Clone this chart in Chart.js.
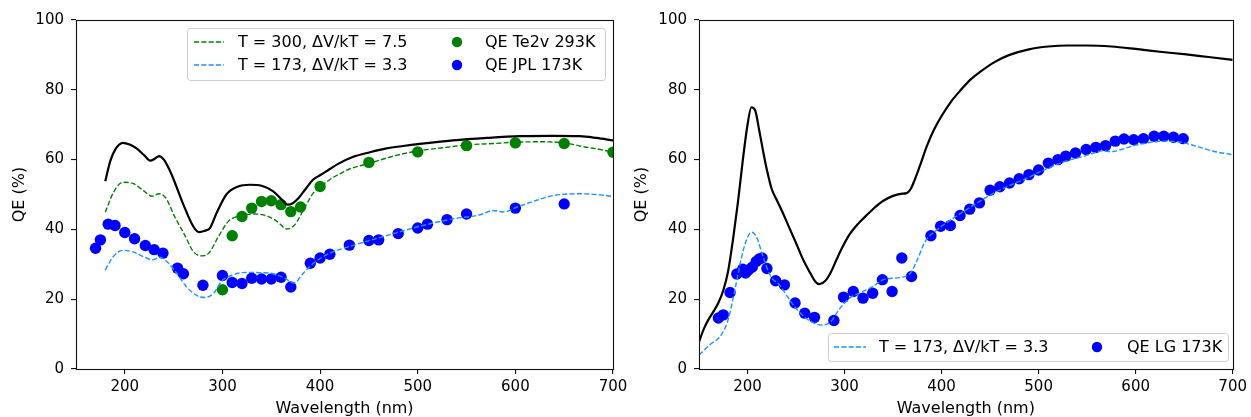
<!DOCTYPE html>
<html><head><meta charset="utf-8">
<script src="https://cdn.jsdelivr.net/npm/chart.js@4.4.1/dist/chart.umd.min.js"></script>
<style>
html,body{margin:0;padding:0;background:#fff;width:1251px;height:417px;overflow:hidden;}
canvas{position:absolute;top:0;}
#c1{left:0;}
#c2{left:625px;}
</style></head><body>
<canvas id="c1" width="645" height="417"></canvas>
<canvas id="c2" width="626" height="417"></canvas>
<script>
// ---------- Left panel data ----------
const leftBlackNm = [180,185,190,198,205,212,220,226,231,235,240,245,250,260,270,276,282,287,294,304,316,328,340,352,361,367,372,378,385,393,400,410,418,434,451,468,485,502,536,571,605,639,666,683,700];
const leftBlackQE = [53.8,59.5,62.8,64.8,64.3,63.2,61.2,59.7,60.3,61.0,60.0,57.5,54.3,47.1,40.9,39.2,39.6,40.3,44.7,50.0,52.3,52.8,52.5,50.9,48.5,47.1,47.5,49.0,51.5,54.3,55.5,57.3,58.7,60.8,62.1,63.2,63.9,64.5,65.5,66.2,66.7,66.8,66.7,66.2,65.5];

const leftT300Nm = [180,188,198,209,219,228,235,242,251,262,270,279,286,296,306,318,332,344,356,366,374,383,393,401,410,420,430,450,475,500,526,550,577,600,625,650,670,687,700];
const leftT300QE = [44.9,50.4,53.5,53.1,51.1,49.5,50.2,49.0,43.7,38.0,33.7,32.4,33.2,38.0,42.3,43.9,44.4,44.0,42.3,40.1,41.3,45.6,50.4,52.3,54.3,55.9,57.3,58.9,61.0,62.5,63.4,64.2,64.6,65.0,65.1,64.8,63.7,62.9,62.1];

const leftT173Nm = [180,188,198,209,219,228,236,244,253,263,274,282,291,299,311,325,338,352,364,373,383,393,401,410,430,468,502,536,564,577,588,600,618,639,666,687,700];
const leftT173QE = [28.4,32.2,34.0,33.5,32.2,31.3,32.0,30.5,27.5,23.6,21.0,20.5,21.7,25.1,27.0,27.7,27.6,27.3,26.0,24.6,27.5,30.3,31.8,33.2,35.1,38.2,40.9,43.0,44.2,45.4,45.0,46.2,48.0,49.7,50.2,49.9,49.4];

const te2vNm = [300,310,320,330,340,350,360,370,380,400,450,500,550,600,650,700];
const te2vQE = [22.7,38.2,43.7,46.1,48.0,48.2,47.1,45.1,46.4,52.3,59.2,62.2,64.0,64.8,64.6,62.1];

const jplNm = [170,175,183,190,200,210,221,230,239,254,260,280,300,310,320,330,340,350,360,370,390,400,410,430,450,460,480,500,510,530,550,600,650];
const jplQE = [34.6,37.0,41.5,41.1,39.1,37.3,35.4,34.2,33.2,28.9,27.3,24.0,26.8,24.8,24.5,26.0,25.8,25.8,26.3,23.5,30.3,31.8,32.9,35.5,36.8,37.0,38.8,40.4,41.5,42.8,44.4,46.1,47.3];

// ---------- Right panel data ----------
const rightBlackNm = [150,155,160,165,170,175,180,185,190,195,200,204,208,212,216,220,225,230,236,243,250,257,264,270,274,280,286,292,298,305,312,320,330,340,350,358,364,368,372,378,385,392,400,410,420,430,440,455,470,490,510,530,550,575,600,625,650,675,700];
const rightBlackQE = [7.8,11.5,14.3,16.5,19.0,22.5,28.0,37.0,47.5,59.5,70.0,75.0,74.0,68.5,62.5,57.0,51.5,48.5,45.0,40.5,36.1,31.5,27.8,25.0,24.3,25.2,27.8,31.5,35.0,38.5,41.0,43.3,46.0,48.2,49.6,50.2,50.4,51.5,54.0,58.5,64.0,68.5,72.5,76.7,80.0,83.0,85.2,88.0,90.0,91.6,92.4,92.7,92.7,92.4,91.7,90.9,90.2,89.4,88.6];

const rightT173Nm = [150,161,173,180,187,194,199,204,209,216,224,233,241,250,260,269,277,286,294,305,315,329,340,359,368,375,383,393,410,428,448,468,492,499,527,547,557,565,575,585,598,612,629,646,663,680,700];
const rightT173QE = [4.0,6.9,9.8,14.1,22.7,32.2,37.0,39.2,38.0,32.2,26.5,24.1,20.8,17.4,14.6,13.1,12.6,13.6,16.9,20.3,21.7,23.6,25.6,26.3,27.5,31.3,36.5,39.4,42.8,46.1,49.5,52.3,55.2,56.2,59.5,61.0,61.9,62.5,62.3,62.9,64.0,64.8,65.3,65.0,63.8,62.4,61.4];

const lgNm = [170,175,182,189,195,198,201,205,209,212,215,220,229,238,249,259,269,289,299,309,319,329,339,349,359,369,389,399,409,419,429,439,450,460,470,480,490,500,510,520,528,538,549,559,569,579,588,598,608,619,629,639,649];
const lgQE = [14.6,15.5,21.9,27.2,28.6,27.5,28.4,29.2,30.8,31.5,31.8,28.8,25.3,24.1,18.9,16.0,14.8,13.9,20.6,22.2,20.3,21.7,25.6,22.2,31.8,26.5,38.2,40.9,41.1,44.0,45.8,47.6,51.2,52.2,53.3,54.5,55.7,57.0,59.0,60.0,61.0,61.9,62.9,63.5,64.0,65.3,65.9,65.7,66.0,66.7,66.7,66.4,66.0];

const xTickValues = [200,300,400,500,600,700];
const yTickValues = [0,20,40,60,80,100];

// ---------- helpers ----------
const pts = (xs, ys) => xs.map((x, i) => ({x, y: ys[i]}));
Chart.defaults.font.family = '"DejaVu Sans", sans-serif';
Chart.defaults.font.size = 15;
Chart.defaults.color = '#000';

function lineDs(label, xs, ys, color, width, dash, order) {
  return {type:'line', label, data: pts(xs, ys), borderColor: color, backgroundColor: color,
    borderWidth: width, borderDash: dash, pointRadius: 0, pointHoverRadius: 0, fill: false,
    cubicInterpolationMode: 'monotone', order};
}
function dotDs(label, xs, ys, color) {
  return {type:'scatter', label, data: pts(xs, ys), backgroundColor: color, borderColor: color,
    borderWidth: 0, pointRadius: 5.7, pointHoverRadius: 5.7, showLine: false, order: 10};
}

const framePlugin = {
  id: 'frame',
  afterDatasetsDraw(chart) {
    const {ctx, chartArea: a} = chart;
    ctx.save();
    ctx.strokeStyle = '#111';
    ctx.lineWidth = 1.1;
    ctx.strokeRect(Math.round(a.left) + 0.5, Math.round(a.top) + 0.5,
      Math.round(a.right - a.left), Math.round(a.bottom - a.top));
    ctx.restore();
  }
};

const boxLegend = {
  id: 'boxLegend',
  afterDraw(chart, args, opts) {
    if (!opts || !opts.box) return;
    const ctx = chart.ctx;
    const [x0, y0, x1, y1] = opts.box;
    ctx.save();
    ctx.beginPath();
    if (ctx.roundRect) ctx.roundRect(x0 + 0.5, y0 + 0.5, x1 - x0, y1 - y0, 3);
    else ctx.rect(x0 + 0.5, y0 + 0.5, x1 - x0, y1 - y0);
    ctx.fillStyle = 'rgba(255,255,255,0.8)';
    ctx.fill();
    ctx.strokeStyle = '#cccccc';
    ctx.lineWidth = 1;
    ctx.stroke();
    ctx.font = '16px "DejaVu Sans"';
    ctx.textBaseline = 'middle';
    for (const it of opts.items) {
      const ds = chart.data.datasets[it.ds];
      if (it.line) {
        ctx.beginPath();
        ctx.setLineDash(ds.borderDash || []);
        ctx.strokeStyle = ds.borderColor;
        ctx.lineWidth = ds.borderWidth;
        ctx.moveTo(it.line[0], it.y);
        ctx.lineTo(it.line[1], it.y);
        ctx.stroke();
        ctx.setLineDash([]);
      } else {
        ctx.beginPath();
        ctx.arc(it.mx, it.y, 5.2, 0, Math.PI * 2);
        ctx.fillStyle = ds.backgroundColor;
        ctx.fill();
      }
      ctx.fillStyle = '#000';
      ctx.fillText(ds.label, it.tx, it.y + 1);
    }
    ctx.restore();
  }
};

function scales(yWidth, yTitlePad) {
  const grid = {drawOnChartArea: false, drawTicks: true, tickLength: 5, color: '#111', lineWidth: 1.1};
  return {
    x: {type: 'linear', min: 150, max: 700,
      ticks: {stepSize: 100, padding: 4, maxRotation: 0, color: '#000', font: {size: 15}},
      afterBuildTicks(s) { s.ticks = xTickValues.map(v => ({value: v})); },
      grid, border: {display: false},
      title: {display: true, text: 'Wavelength (nm)', color: '#000', font: {size: 16}, padding: {top: 0, bottom: -1}},
      afterFit(s) { s.height = 48; }
    },
    y: {type: 'linear', min: 0, max: 100,
      ticks: {stepSize: 20, padding: 7, color: '#000', font: {size: 15}},
      afterBuildTicks(s) { s.ticks = yTickValues.map(v => ({value: v})); },
      grid, border: {display: false},
      title: {display: true, text: 'QE (%)', color: '#000', font: {size: 16}, padding: {top: yTitlePad, bottom: 0}},
      afterFit(s) { s.width = yWidth; }
    }
  };
}

const common = {
  responsive: false, animation: false, devicePixelRatio: 1,
  events: [],
};

new Chart(document.getElementById('c1'), {
  type: 'scatter',
  data: {datasets: [
    lineDs('T = 300, ΔV/kT = 7.5', leftT300Nm, leftT300QE, '#008000', 1.4, [5.1, 2.2], 1),
    lineDs('T = 173, ΔV/kT = 3.3', leftT173Nm, leftT173QE, '#1e90ff', 1.4, [5.1, 2.2], 1),
    dotDs('QE Te2v 293K', te2vNm, te2vQE, '#008000'),
    dotDs('QE JPL 173K', jplNm, jplQE, '#0000ff'),
    lineDs('model', leftBlackNm, leftBlackQE, '#000000', 2.2, [], 2),
  ]},
  options: Object.assign({}, common, {
    layout: {padding: {left: 0, top: 20, right: 32, bottom: 0}},
    scales: scales(76, 10),
    plugins: {legend: {display: false}, tooltip: {enabled: false},
      boxLegend: {box: [187, 28, 605, 80], items: [
        {ds: 0, line: [194, 224], y: 42, tx: 238},
        {ds: 2, mx: 457, y: 42, tx: 485},
        {ds: 1, line: [194, 224], y: 65, tx: 238},
        {ds: 3, mx: 457, y: 65, tx: 485},
      ]}}
  }),
  plugins: [framePlugin, boxLegend]
});

new Chart(document.getElementById('c2'), {
  type: 'scatter',
  data: {datasets: [
    lineDs('T = 173, ΔV/kT = 3.3', rightT173Nm, rightT173QE, '#1e90ff', 1.4, [5.1, 2.2], 1),
    dotDs('QE LG 173K', lgNm, lgQE, '#0000ff'),
    lineDs('model', rightBlackNm, rightBlackQE, '#000000', 2.2, [], 2),
  ]},
  options: Object.assign({}, common, {
    layout: {padding: {left: 0, top: 20, right: 15, bottom: 0}},
    scales: scales(74, 7.5),
    plugins: {legend: {display: false}, tooltip: {enabled: false},
      boxLegend: {box: [203, 333, 603, 361], items: [
        {ds: 0, line: [209, 241], y: 347, tx: 254},
        {ds: 1, mx: 472, y: 347, tx: 502},
      ]}}
  }),
  plugins: [framePlugin, boxLegend]
});
</script>
</body></html>
